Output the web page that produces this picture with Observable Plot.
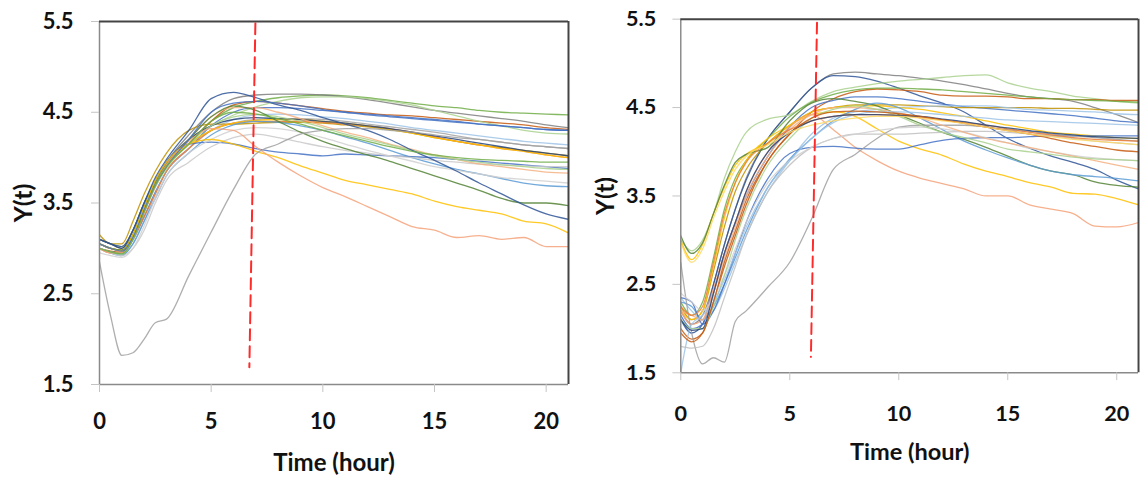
<!DOCTYPE html>
<html><head><meta charset="utf-8">
<script src="https://cdn.jsdelivr.net/npm/d3@7"></script>
<script src="https://cdn.jsdelivr.net/npm/@observablehq/plot@0.6"></script>
<style>
html,body{margin:0;padding:0;background:#fff;overflow:hidden;width:1140px;height:478px}
#wrap{position:relative;width:1140px;height:478px;overflow:hidden}
#left{position:absolute;left:0;top:0}
#right{position:absolute;left:585px;top:0}
</style></head>
<body><div id="wrap"><div id="left"></div><div id="right"></div></div>
<script>
// time grid (hours)
const hours = [0,0.5,1,1.5,2,2.5,3,4,5,6,7,8,9,10,11,12,13,14,15,16,17,18,19,20,21];
const xTicks = [0,5,10,15,20];
const yTicks = [1.5,2.5,3.5,4.5,5.5];

// left panel series
const leftColors = ["#70AD47","#7F7F7F","#C55A11","#A9D18E","#4472C4","#9DC3E6","#A5A5A5","#BF9000","#ED7D31","#FFC000","#264478","#5B9BD5","#4472C4","#C9C9C9","#F4B183","#D0D0D0","#A9D18E","#548235","#2F5597","#FFC000","#F4A27A","#A0A0A0","#4472C4","#70AD47"];
const leftValues = [
 [3.05,3.0,2.98,3.15,3.45,3.7,3.9,4.15,4.4,4.55,4.62,4.66,4.68,4.69,4.68,4.66,4.63,4.6,4.57,4.55,4.52,4.5,4.49,4.48,4.47],
 [3.1,3.05,3.0,3.2,3.5,3.75,3.95,4.25,4.5,4.65,4.69,4.7,4.7,4.69,4.67,4.64,4.6,4.56,4.52,4.49,4.46,4.43,4.4,4.36,4.33],
 [3.0,2.97,2.96,3.1,3.4,3.68,3.9,4.15,4.4,4.58,4.62,4.6,4.57,4.54,4.51,4.49,4.47,4.46,4.44,4.42,4.4,4.38,4.36,4.33,4.31],
 [3.1,3.05,3.02,3.2,3.5,3.75,3.95,4.2,4.35,4.47,4.56,4.62,4.66,4.67,4.67,4.65,4.62,4.58,4.52,4.46,4.4,4.35,4.3,4.27,4.26],
 [3.0,2.96,2.95,3.1,3.35,3.62,3.85,4.1,4.35,4.5,4.55,4.55,4.54,4.52,4.5,4.48,4.46,4.44,4.42,4.4,4.37,4.35,4.33,4.31,4.3],
 [3.0,2.95,2.93,3.05,3.3,3.6,3.85,4.1,4.3,4.42,4.47,4.48,4.47,4.45,4.43,4.4,4.37,4.33,4.3,4.27,4.24,4.21,4.18,4.16,4.14],
 [3.05,3.0,2.98,3.15,3.45,3.72,3.92,4.15,4.3,4.38,4.42,4.43,4.43,4.42,4.4,4.37,4.34,4.31,4.28,4.24,4.2,4.17,4.14,4.12,4.1],
 [3.15,3.05,3.05,3.3,3.6,3.85,4.05,4.3,4.37,4.37,4.38,4.39,4.39,4.38,4.36,4.34,4.31,4.27,4.22,4.18,4.14,4.11,4.08,4.05,4.02],
 [3.0,2.95,2.95,3.1,3.35,3.6,3.85,4.1,4.3,4.38,4.4,4.4,4.4,4.39,4.37,4.35,4.32,4.28,4.23,4.18,4.14,4.1,4.07,4.03,4.0],
 [3.05,3.0,2.98,3.15,3.45,3.72,3.92,4.15,4.3,4.38,4.41,4.42,4.42,4.4,4.38,4.35,4.31,4.27,4.22,4.18,4.14,4.1,4.07,4.03,4.0],
 [3.1,3.05,3.0,3.2,3.5,3.75,3.95,4.2,4.35,4.42,4.44,4.43,4.42,4.4,4.38,4.35,4.32,4.28,4.24,4.2,4.16,4.12,4.08,4.05,4.02],
 [3.0,2.95,2.92,3.05,3.3,3.55,3.8,4.05,4.25,4.36,4.4,4.39,4.35,4.3,4.23,4.16,4.08,4.0,3.93,3.87,3.82,3.77,3.72,3.69,3.68],
 [3.05,3.0,2.97,3.12,3.45,3.75,3.95,4.15,4.17,4.15,4.1,4.06,4.04,4.02,4.04,4.03,4.02,4.01,4.0,3.98,3.96,3.94,3.92,3.9,3.88],
 [3.0,2.95,2.92,3.0,3.2,3.5,3.75,3.95,4.12,4.22,4.26,4.22,4.17,4.12,4.08,4.05,4.02,4.0,3.97,3.95,3.93,3.92,3.91,3.9,3.9],
 [3.05,3.0,2.97,3.15,3.45,3.72,3.93,4.2,4.45,4.55,4.55,4.5,4.43,4.35,4.28,4.22,4.15,4.09,4.03,3.98,3.93,3.9,3.87,3.84,3.83],
 [2.95,2.92,2.9,3.0,3.25,3.55,3.8,4.05,4.2,4.3,4.33,4.32,4.28,4.22,4.15,4.08,4.02,3.96,3.9,3.86,3.82,3.78,3.76,3.74,3.72],
 [3.0,2.96,2.94,3.1,3.4,3.68,3.88,4.15,4.35,4.45,4.48,4.45,4.4,4.33,4.26,4.2,4.14,4.08,4.02,3.98,3.95,3.92,3.9,3.88,3.87],
 [3.05,3.0,2.98,3.15,3.45,3.72,3.93,4.2,4.45,4.57,4.52,4.4,4.28,4.18,4.1,4.03,3.96,3.88,3.8,3.72,3.64,3.55,3.5,3.5,3.47],
 [3.1,3.05,3.02,3.2,3.5,3.78,3.98,4.3,4.65,4.72,4.66,4.58,4.52,4.44,4.37,4.3,4.2,4.08,3.97,3.85,3.72,3.6,3.48,3.38,3.32],
 [3.05,3.0,2.97,3.15,3.45,3.75,3.95,4.15,4.2,4.15,4.07,4.0,3.91,3.83,3.75,3.7,3.65,3.6,3.52,3.46,3.42,3.38,3.3,3.27,3.17],
 [3.0,2.95,2.95,3.1,3.4,3.7,3.92,4.18,4.32,4.3,4.12,3.95,3.8,3.67,3.57,3.46,3.35,3.24,3.2,3.12,3.14,3.1,3.12,3.02,3.02],
 [2.85,2.25,1.82,1.85,2.0,2.18,2.22,2.7,3.18,3.65,4.04,4.15,4.26,4.3,4.32,4.32,4.3,4.28,4.25,4.22,4.2,4.17,4.14,4.12,4.1],
 [3.05,3.0,2.97,3.12,3.42,3.7,3.9,4.2,4.5,4.6,4.62,4.6,4.57,4.53,4.5,4.47,4.45,4.43,4.41,4.39,4.37,4.35,4.33,4.31,4.3],
 [3.0,2.96,2.94,3.1,3.4,3.7,3.9,4.15,4.4,4.5,4.48,4.43,4.37,4.3,4.24,4.18,4.12,4.07,4.03,4.0,3.98,3.97,3.96,3.95,3.95]
];

// right panel series
const rightColors = ["#7F7F7F","#2F5597","#A9D18E","#C55A11","#70AD47","#4472C4","#BF9000","#9DC3E6","#FFC000","#FFC000","#F4A27A","#548235","#5B9BD5","#4472C4","#A0A0A0","#BFBFBF","#D0D0D0","#F4B183","#A9D18E","#9DC3E6","#ED7D31","#264478","#C55A11","#FFD966"];
const rightValues = [
 [2.2,2.05,2.15,2.5,2.95,3.35,3.7,4.15,4.45,4.72,4.88,4.9,4.88,4.86,4.83,4.8,4.76,4.71,4.66,4.62,4.6,4.57,4.5,4.42,4.33],
 [2.1,1.95,2.05,2.5,2.95,3.35,3.68,4.15,4.45,4.72,4.86,4.85,4.8,4.72,4.63,4.55,4.45,4.3,4.15,4.04,3.95,3.88,3.8,3.68,3.58],
 [3.0,2.88,3.0,3.3,3.7,4.0,4.22,4.37,4.42,4.57,4.68,4.73,4.77,4.8,4.82,4.84,4.86,4.87,4.78,4.72,4.68,4.63,4.6,4.57,4.55],
 [2.0,1.88,1.95,2.3,2.7,3.05,3.4,3.9,4.2,4.45,4.6,4.68,4.71,4.7,4.68,4.64,4.63,4.63,4.62,4.6,4.6,4.59,4.59,4.58,4.58],
 [2.3,2.15,2.3,2.8,3.35,3.7,3.9,4.15,4.4,4.56,4.65,4.7,4.72,4.72,4.71,4.7,4.68,4.66,4.64,4.62,4.6,4.59,4.58,4.57,4.56],
 [2.15,2.0,2.05,2.4,2.85,3.2,3.5,3.95,4.28,4.5,4.58,4.62,4.62,4.6,4.57,4.54,4.51,4.49,4.47,4.45,4.43,4.41,4.38,4.35,4.33],
 [2.25,2.1,2.2,2.65,3.15,3.55,3.8,4.1,4.3,4.45,4.5,4.53,4.53,4.53,4.52,4.51,4.5,4.5,4.5,4.5,4.49,4.49,4.48,4.47,4.47],
 [2.35,2.2,2.1,2.2,2.45,2.75,3.05,3.55,3.9,4.2,4.38,4.45,4.48,4.5,4.51,4.52,4.52,4.52,4.5,4.48,4.47,4.46,4.45,4.43,4.42],
 [3.0,2.78,2.95,3.3,3.6,3.85,3.97,4.1,4.3,4.45,4.5,4.52,4.52,4.5,4.48,4.44,4.4,4.35,4.3,4.26,4.22,4.2,4.18,4.16,4.15],
 [2.2,2.1,2.2,2.7,3.25,3.65,3.9,4.15,4.3,4.42,4.45,4.4,4.26,4.12,4.03,3.96,3.86,3.78,3.72,3.65,3.6,3.53,3.52,3.47,3.4],
 [2.2,2.05,2.1,2.45,2.85,3.2,3.55,4.0,4.28,4.42,4.25,4.05,3.9,3.78,3.7,3.64,3.58,3.5,3.5,3.4,3.35,3.3,3.16,3.15,3.2],
 [3.05,2.85,2.97,3.3,3.62,3.88,3.97,4.05,4.35,4.55,4.6,4.57,4.52,4.42,4.32,4.22,4.14,4.05,3.95,3.85,3.78,3.74,3.66,3.62,3.6],
 [2.3,2.25,2.1,2.25,2.5,2.8,3.1,3.6,3.92,4.15,4.35,4.48,4.55,4.5,4.38,4.25,4.12,4.02,3.93,3.85,3.78,3.74,3.72,3.7,3.67],
 [2.35,2.3,2.05,2.2,2.5,2.85,3.2,3.7,3.98,4.05,4.06,4.04,4.03,4.03,4.08,4.13,4.15,4.16,4.16,4.17,4.18,4.18,4.18,4.18,4.18],
 [2.75,1.95,1.6,1.67,1.62,2.08,2.2,2.47,2.75,3.24,3.8,3.97,4.15,4.28,4.3,4.3,4.3,4.28,4.25,4.23,4.2,4.18,4.16,4.14,4.12],
 [1.8,1.78,1.8,2.0,2.35,2.7,3.05,3.55,3.85,4.05,4.15,4.2,4.2,4.2,4.21,4.22,4.23,4.23,4.22,4.2,4.18,4.15,4.12,4.1,4.08],
 [2.4,2.3,2.2,2.35,2.6,2.9,3.2,3.65,3.9,4.05,4.15,4.2,4.24,4.27,4.28,4.26,4.22,4.16,4.1,4.04,4.0,3.96,3.93,3.91,3.9],
 [2.2,2.15,2.1,2.4,2.8,3.15,3.5,3.95,4.25,4.42,4.5,4.5,4.48,4.44,4.38,4.3,4.22,4.15,4.1,4.05,4.0,3.95,3.9,3.85,3.8],
 [2.1,2.0,2.0,2.25,2.6,3.0,3.35,3.85,4.15,4.38,4.48,4.52,4.48,4.4,4.3,4.22,4.16,4.1,4.03,4.0,3.97,3.94,3.92,3.91,3.9],
 [1.5,2.05,2.15,2.3,2.55,2.85,3.15,3.6,3.9,4.15,4.33,4.42,4.45,4.45,4.44,4.42,4.4,4.38,4.36,4.35,4.34,4.33,4.32,4.31,4.3],
 [2.25,2.15,2.25,2.75,3.3,3.65,3.88,4.1,4.25,4.35,4.4,4.42,4.42,4.41,4.39,4.36,4.33,4.3,4.26,4.22,4.19,4.16,4.14,4.13,4.12],
 [2.1,1.98,2.0,2.4,2.85,3.2,3.55,4.0,4.22,4.35,4.4,4.42,4.42,4.41,4.4,4.37,4.34,4.3,4.27,4.24,4.21,4.19,4.17,4.16,4.15],
 [1.95,1.85,1.95,2.3,2.75,3.1,3.45,3.9,4.2,4.38,4.45,4.46,4.45,4.43,4.4,4.36,4.32,4.28,4.24,4.2,4.15,4.1,4.06,4.02,4.0],
 [2.98,2.75,2.9,3.25,3.55,3.8,3.95,4.08,4.22,4.3,4.35,4.38,4.4,4.4,4.38,4.35,4.32,4.28,4.24,4.2,4.17,4.14,4.12,4.1,4.08]
];

// red dashed cut lines: [time at top, time at bottom], [value top, value bottom]
const leftCutT = [6.98, 6.71];
const leftCutY = [5.48, 1.69];
const rightCutT = [6.25, 5.97];
const rightCutY = [5.46, 1.68];

const FONT = "Lato, 'Open Sans', 'DejaVu Sans', sans-serif";

function rowsOf(values, colors) {
  const rows = [];
  values.forEach((vals, s) => vals.forEach((v, j) => rows.push({t: hours[j], y: v, s, c: colors[s]})));
  return rows;
}

function panel({values, colors, cutT, cutY, width, marginLeft, marginTop, marginBottom, xPad, yPad, titleDy, ylabDx}) {
  const rows = rowsOf(values, colors);
  const cut = cutT.map((t, i) => ({t, y: cutY[i]}));
  return Plot.plot({
    width, height: 478,
    marginLeft, marginRight: 2, marginTop, marginBottom,
    style: {fontFamily: FONT, background: "#fff", overflow: "visible"},
    x: {domain: [0, 21]},
    y: {domain: [1.5, 5.5]},
    color: {type: "identity"},
    marks: [
      Plot.line(rows, {x: "t", y: "y", z: "s", stroke: "c", curve: "monotone-x", strokeWidth: 1.3, strokeOpacity: 0.85, clip: true}),
      Plot.ruleX([0], {stroke: "#8a8a8a", strokeWidth: 1.5}),
      Plot.ruleY([1.5], {stroke: "#8a8a8a", strokeWidth: 1.5}),
      Plot.ruleY([5.5], {stroke: "#444", strokeWidth: 2}),
      Plot.ruleX([21], {stroke: "#444", strokeWidth: 2}),
      Plot.line(cut, {x: "t", y: "y", stroke: "#ff2a2a", strokeWidth: 2, strokeDasharray: "11,6"}),
      Plot.axisX({ticks: xTicks, tickSize: 8, tickPadding: xPad, stroke: "#c4c4c4", fill: "#111", fontSize: 22, fontWeight: "bold", label: null, tickFormat: d => String(d)}),
      Plot.axisY({ticks: yTicks, tickSize: 8, tickPadding: yPad, stroke: "#c4c4c4", fill: "#111", fontSize: 22, fontWeight: "bold", label: null, tickFormat: d => d.toFixed(1)}),
      Plot.text(["Time (hour)"], {frameAnchor: "bottom", dy: titleDy, textAnchor: "middle", lineAnchor: "middle", fontSize: 24, fontWeight: "bold", fill: "#111"}),
      Plot.text(["Y(t)"], {frameAnchor: "left", dx: ylabDx, rotate: -90, textAnchor: "middle", lineAnchor: "middle", fontSize: 25, fontWeight: "bold", fill: "#111"})
    ]
  });
}

document.getElementById("left").append(panel({
  values: leftValues, colors: leftColors, cutT: leftCutT, cutY: leftCutY,
  width: 570, marginLeft: 99, marginTop: 21, marginBottom: 94, xPad: 21, yPad: 18, titleDy: 79, ylabDx: -76
}));
document.getElementById("right").append(panel({
  values: rightValues, colors: rightColors, cutT: rightCutT, cutY: rightCutY,
  width: 565, marginLeft: 97, marginTop: 19, marginBottom: 99, xPad: 25, yPad: 17, titleDy: 81, ylabDx: -76
}));
</script></body></html>
